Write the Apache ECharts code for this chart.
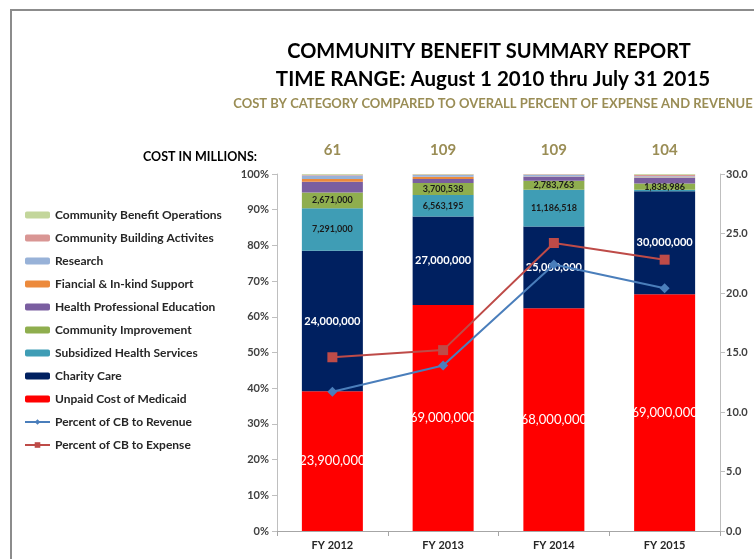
<!DOCTYPE html>
<html><head><meta charset="utf-8">
<script src="https://cdn.jsdelivr.net/npm/echarts@6/dist/echarts.min.js"></script>
<style>html,body{margin:0;padding:0;background:#fff}#c{width:754px;height:559px}</style>
</head><body><div id="c"></div>
<script>
const categories = ['FY 2012', 'FY 2013', 'FY 2014', 'FY 2015'];
const costInMillions = ['61', '109', '109', '104'];
const unpaidMedicaid = [23900000, 69000000, 68000000, 69000000];
const charityCare = [24000000, 27000000, 25000000, 30000000];
const subsidizedHealth = [7291000, 6563195, 11186518, 400000];
const communityImprovement = [2671000, 3700538, 2783763, 1838986];
const healthProfEducation = [1830000, 1220000, 1200000, 1600000];
const financialSupport = [500000, 700000, 50000, 160000];
const research = [600000, 520000, 550000, 350000];
const communityBuilding = [120000, 150000, 150000, 450000];
const cbOperations = [120000, 150000, 80000, 200000];
const pctRevenue = [11.7, 13.9, 22.4, 20.4];
const pctExpense = [14.6, 15.2, 24.2, 22.8];
const subsidizedLabelShown = [true, true, true, false];

const FONT = 'Lato, "Open Sans", sans-serif';
function commas(n) { return String(Math.round(n)).replace(/\B(?=(\d{3})+(?!\d))/g, ','); }

const stackDefs = [
  { name: 'Unpaid Cost of Medicaid', data: unpaidMedicaid, color: '#ff0000', label: { show: true, color: '#fff', fontSize: 13 } },
  { name: 'Charity Care', data: charityCare, color: '#002060', label: { show: true, color: '#fff', fontSize: 11, fontWeight: 'bold' } },
  { name: 'Subsidized Health Services', data: subsidizedHealth, color: '#3f9db5', label: { show: true, color: '#1a1a1a', fontSize: 9, fontWeight: 'bold' }, shown: subsidizedLabelShown },
  { name: 'Community Improvement', data: communityImprovement, color: '#8fae4e', label: { show: true, color: '#1a1a1a', fontSize: 9, fontWeight: 'bold' } },
  { name: 'Health Professional Education', data: healthProfEducation, color: '#7a5ea0' },
  { name: 'Fiancial & In-kind Support', data: financialSupport, color: '#ec8a3c' },
  { name: 'Research', data: research, color: '#98b2d8' },
  { name: 'Community Building Activites', data: communityBuilding, color: '#d99694' },
  { name: 'Community Benefit Operations', data: cbOperations, color: '#c3d69b' }
];

const totals = categories.map((_, i) => stackDefs.reduce((s, d) => s + d.data[i], 0));

const barSeries = stackDefs.map(d => ({
  name: d.name,
  type: 'bar',
  stack: 'cb',
  barWidth: 61,
  itemStyle: { color: d.color },
  data: d.data.map((v, i) => {
    const item = { value: v / totals[i] * 100 };
    if (d.shown) item.label = { show: d.shown[i] };
    return item;
  }),
  label: d.label ? Object.assign({ position: 'inside', fontFamily: FONT,
    formatter: p => commas(d.data[p.dataIndex]) }, d.label) : { show: false }
}));

const lineSeries = [
  { name: 'Percent of CB to Revenue', type: 'line', yAxisIndex: 1, data: pctRevenue,
    symbol: 'diamond', symbolSize: 10, lineStyle: { color: '#4a7ebb', width: 2 },
    itemStyle: { color: '#4a7ebb' }, z: 5 },
  { name: 'Percent of CB to Expense', type: 'line', yAxisIndex: 1, data: pctExpense,
    symbol: 'rect', symbolSize: 10, lineStyle: { color: '#be4b48', width: 2 },
    itemStyle: { color: '#be4b48' }, z: 5 }
];

const chart = echarts.init(document.getElementById('c'));
chart.setOption({
  animation: false,
  backgroundColor: '#fff',
  textStyle: { fontFamily: FONT },
  title: [
    { text: 'COMMUNITY BENEFIT SUMMARY REPORT', left: 484, top: 37, textAlign: 'center',
      textStyle: { fontSize: 20, fontWeight: 'bold', color: '#000', fontFamily: FONT } },
    { text: 'TIME RANGE: August 1 2010 thru July 31 2015', left: 488, top: 64, textAlign: 'center',
      textStyle: { fontSize: 20.5, fontWeight: 'bold', color: '#000', fontFamily: FONT } },
    { text: 'COST BY CATEGORY COMPARED TO OVERALL PERCENT OF EXPENSE AND REVENUE', left: 488, top: 92, textAlign: 'center',
      textStyle: { fontSize: 13, fontWeight: 'bold', color: '#9a8d55', fontFamily: FONT } },
    { text: 'COST IN MILLIONS:', left: 138, top: 145,
      textStyle: { fontSize: 12.5, fontWeight: 'bold', color: '#000', fontFamily: FONT } }
  ],
  graphic: [
    { type: 'rect', shape: { x: 11, y: 10, width: 800, height: 600 }, style: { fill: 'none', stroke: '#8c8c8c', lineWidth: 2 }, silent: true }
  ],
  legend: {
    orient: 'vertical', left: 19, top: 203, itemGap: 9, itemWidth: 25, itemHeight: 7,
    textStyle: { fontSize: 12, fontWeight: 'bold', color: '#262626', lineHeight: 14, fontFamily: FONT },
    data: ['Community Benefit Operations', 'Community Building Activites', 'Research',
      'Fiancial & In-kind Support', 'Health Professional Education', 'Community Improvement',
      'Subsidized Health Services', 'Charity Care', 'Unpaid Cost of Medicaid',
      'Percent of CB to Revenue', 'Percent of CB to Expense']
  },
  grid: { left: 277, right: 34, top: 174, bottom: 28 },
  xAxis: [
    { type: 'category', data: categories, position: 'bottom',
      axisLine: { lineStyle: { color: '#a6a6a6' } },
      axisTick: { show: true, length: 5, lineStyle: { color: '#a6a6a6' } },
      axisLabel: { fontSize: 11, fontWeight: 'bold', color: '#262626', margin: 9 } },
    { type: 'category', data: costInMillions, position: 'top',
      axisLine: { show: false }, axisTick: { show: false },
      axisLabel: { fontSize: 15, fontWeight: 'bold', color: '#9a8d55', margin: 16 } }
  ],
  yAxis: [
    { type: 'value', min: 0, max: 100, interval: 10,
      axisLine: { show: true, lineStyle: { color: '#bfbfbf' } },
      axisTick: { show: true, length: 5, lineStyle: { color: '#bfbfbf' } },
      splitLine: { show: false },
      axisLabel: { formatter: '{value}%', fontSize: 11, fontWeight: 'bold', color: '#404040', margin: 8 } },
    { type: 'value', min: 0, max: 30, interval: 5, position: 'right',
      axisLine: { show: true, lineStyle: { color: '#bfbfbf' } },
      axisTick: { show: true, length: 5, lineStyle: { color: '#bfbfbf' } },
      splitLine: { show: false },
      axisLabel: { formatter: v => v.toFixed(1), fontSize: 11, fontWeight: 'bold', color: '#404040', margin: 6 } }
  ],
  series: barSeries.concat(lineSeries)
});
</script>
</body></html>
